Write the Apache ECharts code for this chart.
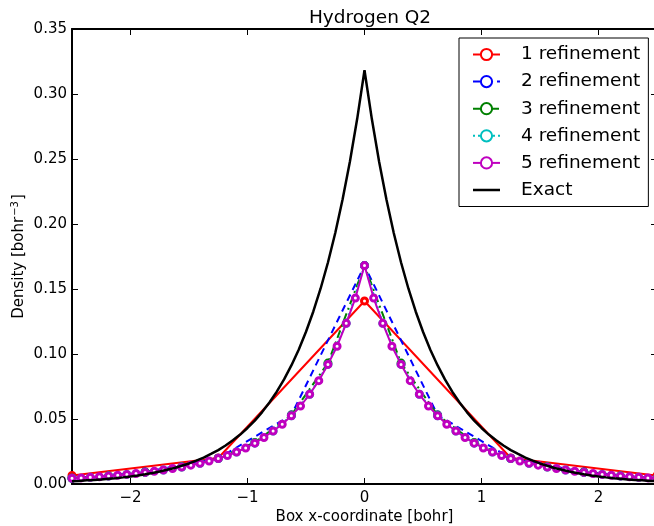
<!DOCTYPE html>
<html>
<head>
<meta charset="utf-8">
<script src="https://cdn.jsdelivr.net/npm/echarts@6/dist/echarts.min.js"></script>
<style>
html,body{margin:0;padding:0;background:#fff;}
#chart{width:654px;height:526px;}
</style>
</head>
<body>
<div id="chart"></div>
<script>
// ---- data ----
const seriesNames = ['1 refinement','2 refinement','3 refinement','4 refinement','5 refinement','Exact'];
const xTicks = [-2, -1, 0, 1, 2];
const yTicks = [0, 0.05, 0.10, 0.15, 0.20, 0.25, 0.30, 0.35];

const ref1 = [0.0065, 0.020, 0.1408, 0.020, 0.0065];
const ref2 = [0.0045, 0.0092, 0.0198, 0.053, 0.168, 0.053, 0.0198, 0.0092, 0.0045];
const ref3 = [0.0044, 0.0062, 0.009, 0.0132, 0.0197, 0.032, 0.053, 0.093, 0.168,
              0.093, 0.053, 0.032, 0.0197, 0.0132, 0.009, 0.0062, 0.0044];
const ref4 = [0.0044, 0.0051, 0.0061, 0.0074, 0.0089, 0.0108, 0.0131, 0.016, 0.0196, 0.0246,
              0.0314, 0.0408, 0.0525, 0.069, 0.092, 0.1236, 0.168, 0.1236, 0.092, 0.069,
              0.0525, 0.0408, 0.0314, 0.0246, 0.0196, 0.016, 0.0131, 0.0108, 0.0089, 0.0074,
              0.0061, 0.0051, 0.0044];
const ref5 = [0.0044, 0.0047, 0.0051, 0.0056, 0.0061, 0.0067, 0.0074, 0.0081, 0.0089, 0.0098,
              0.0108, 0.0119, 0.0131, 0.0145, 0.0160, 0.0177, 0.0196, 0.0219, 0.0246, 0.0277,
              0.0314, 0.0358, 0.0408, 0.046, 0.0525, 0.060, 0.069, 0.0795, 0.092, 0.106,
              0.1236, 0.143, 0.168,
              0.143, 0.1236, 0.106, 0.092, 0.0795, 0.069, 0.060, 0.0525, 0.046, 0.0408,
              0.0358, 0.0314, 0.0277, 0.0246, 0.0219, 0.0196, 0.0177, 0.0160, 0.0145, 0.0131,
              0.0119, 0.0108, 0.0098, 0.0089, 0.0081, 0.0074, 0.0067, 0.0061, 0.0056, 0.0051,
              0.0047, 0.0044];
const exact = [0.0021, 0.0024, 0.0028, 0.0031, 0.0035, 0.0040, 0.0045, 0.0051, 0.0058, 0.0066,
               0.0075, 0.0085, 0.0096, 0.0109, 0.0123, 0.0140, 0.0158, 0.0180, 0.0203, 0.0231,
               0.0261, 0.0296, 0.0336, 0.0380, 0.0431, 0.0488, 0.0553, 0.0627, 0.0710, 0.0805,
               0.0912, 0.1033, 0.1171, 0.1327, 0.1504, 0.1704, 0.1931, 0.2188, 0.2479, 0.2809,
               0.3183,
               0.2809, 0.2479, 0.2188, 0.1931, 0.1704, 0.1504, 0.1327, 0.1171, 0.1033, 0.0912,
               0.0805, 0.0710, 0.0627, 0.0553, 0.0488, 0.0431, 0.0380, 0.0336, 0.0296, 0.0261,
               0.0231, 0.0203, 0.0180, 0.0158, 0.0140, 0.0123, 0.0109, 0.0096, 0.0085, 0.0075,
               0.0066, 0.0058, 0.0051, 0.0045, 0.0040, 0.0035, 0.0031, 0.0028, 0.0024, 0.0021];

const xMin = -2.5, xMax = 2.5;

// evenly spaced node positions across the box
function nodes(n) {
  const out = [];
  for (let i = 0; i < n; i++) out.push(xMin + (xMax - xMin) * i / (n - 1));
  return out;
}
function pairs(ys) {
  const xs = nodes(ys.length);
  return ys.map((y, i) => [xs[i], y]);
}

const FONT = 'DejaVu Sans';
const fmtX = v => (v < 0 ? '\u2212' + Math.abs(v) : String(v));

const refStyles = [
  {color: '#ff0000', type: 'solid'},
  {color: '#0000ff', type: [7, 5]},
  {color: '#008000', type: [8, 4, 2, 4]},
  {color: '#00bfbf', type: [2, 3]},
  {color: '#bf00bf', type: 'solid'}
];
const refData = [ref1, ref2, ref3, ref4, ref5];

const series = refData.map((d, i) => ({
  name: seriesNames[i],
  type: 'line',
  data: pairs(d),
  symbol: 'circle',
  symbolSize: 6,
  showSymbol: true,
  itemStyle: {color: '#ffffff', borderColor: refStyles[i].color, borderWidth: 3},
  lineStyle: {color: refStyles[i].color, width: 2, type: refStyles[i].type},
  emphasis: {disabled: true},
  z: 2 + i
}));
series.push({
  name: seriesNames[5],
  type: 'line',
  data: pairs(exact),
  symbol: 'none',
  showSymbol: false,
  itemStyle: {color: '#000'},
  lineStyle: {color: '#000', width: 2.5},
  emphasis: {disabled: true},
  z: 10
});

const legendData = seriesNames.map(n => n === 'Exact'
  ? {name: n, icon: 'path://M0,0 L0.01,0 L0.01,0.01 L0,0.01 Z M0,5.7 L27,5.7 L27,8.3 L0,8.3 Z M26.99,13.99 L27,13.99 L27,14 L26.99,14 Z', itemStyle: {color: '#000'}}
  : {name: n});

const chart = echarts.init(document.getElementById('chart'), null, {renderer: 'canvas'});
chart.setOption({
  animation: false,
  backgroundColor: '#fff',
  title: {
    text: 'Hydrogen Q2',
    left: 365, top: 4, textAlign: 'center',
    textStyle: {fontFamily: FONT, fontSize: 18.5, fontWeight: 'normal', color: '#000'}
  },
  legend: {
    orient: 'vertical',
    left: 459, top: 38,
    data: legendData,
    backgroundColor: '#fff',
    borderColor: '#000', borderWidth: 1, borderRadius: 0,
    padding: [7, 8, 7, 13],
    itemWidth: 27, itemHeight: 14, itemGap: 8.1,
    textStyle: {fontFamily: FONT, fontSize: 18.5, color: '#000', padding: [0, 0, 0, 16]},
    selectedMode: false,
    z: 20
  },
  grid: {left: 72, top: 29, width: 585, height: 455, containLabel: false, outerBoundsMode: 'none'},
  xAxis: [{
    type: 'value', min: xMin, max: xMax, position: 'bottom',
    name: 'Box x-coordinate [bohr]', nameLocation: 'middle', nameGap: 26, nameMoveOverlap: false,
    nameTextStyle: {fontFamily: FONT, fontSize: 15, color: '#000'},
    axisLine: {show: true, onZero: false, lineStyle: {color: '#000', width: 2}},
    axisTick: {show: true, inside: true, length: 6, customValues: xTicks, lineStyle: {color: '#000', width: 1}},
    axisLabel: {customValues: xTicks, formatter: fmtX, margin: 7, fontFamily: FONT, fontSize: 15, color: '#000'},
    splitLine: {show: false}
  }, {
    type: 'value', min: xMin, max: xMax, position: 'top',
    axisLine: {show: true, onZero: false, lineStyle: {color: '#000', width: 2}},
    axisTick: {show: true, inside: true, length: 6, customValues: xTicks, lineStyle: {color: '#000', width: 1}},
    axisLabel: {show: false},
    splitLine: {show: false}
  }],
  yAxis: [{
    type: 'value', min: 0, max: 0.35, interval: 0.05, position: 'left',
    name: '{a|Density [bohr}{s|\u22123}{a|]}',
    nameLocation: 'middle', nameRotate: 90, nameGap: 44, nameMoveOverlap: false,
    nameTextStyle: {
      fontFamily: FONT, fontSize: 15, color: '#000',
      rich: {
        a: {fontFamily: FONT, fontSize: 15, color: '#000'},
        s: {fontFamily: FONT, fontSize: 10, color: '#000', verticalAlign: 'top', padding: [0, 1, 8, 1]}
      }
    },
    axisLine: {show: true, onZero: false, lineStyle: {color: '#000', width: 2}},
    axisTick: {show: true, inside: true, length: 6, lineStyle: {color: '#000', width: 1}},
    axisLabel: {formatter: v => v.toFixed(2), margin: 5, fontFamily: FONT, fontSize: 15, color: '#000'},
    splitLine: {show: false}
  }, {
    type: 'value', min: 0, max: 0.35, interval: 0.05, position: 'right',
    axisLine: {show: true, onZero: false, lineStyle: {color: '#000', width: 2}},
    axisTick: {show: true, inside: true, length: 6, lineStyle: {color: '#000', width: 1}},
    axisLabel: {show: false},
    splitLine: {show: false}
  }],
  series: series
});
</script>
</body>
</html>
